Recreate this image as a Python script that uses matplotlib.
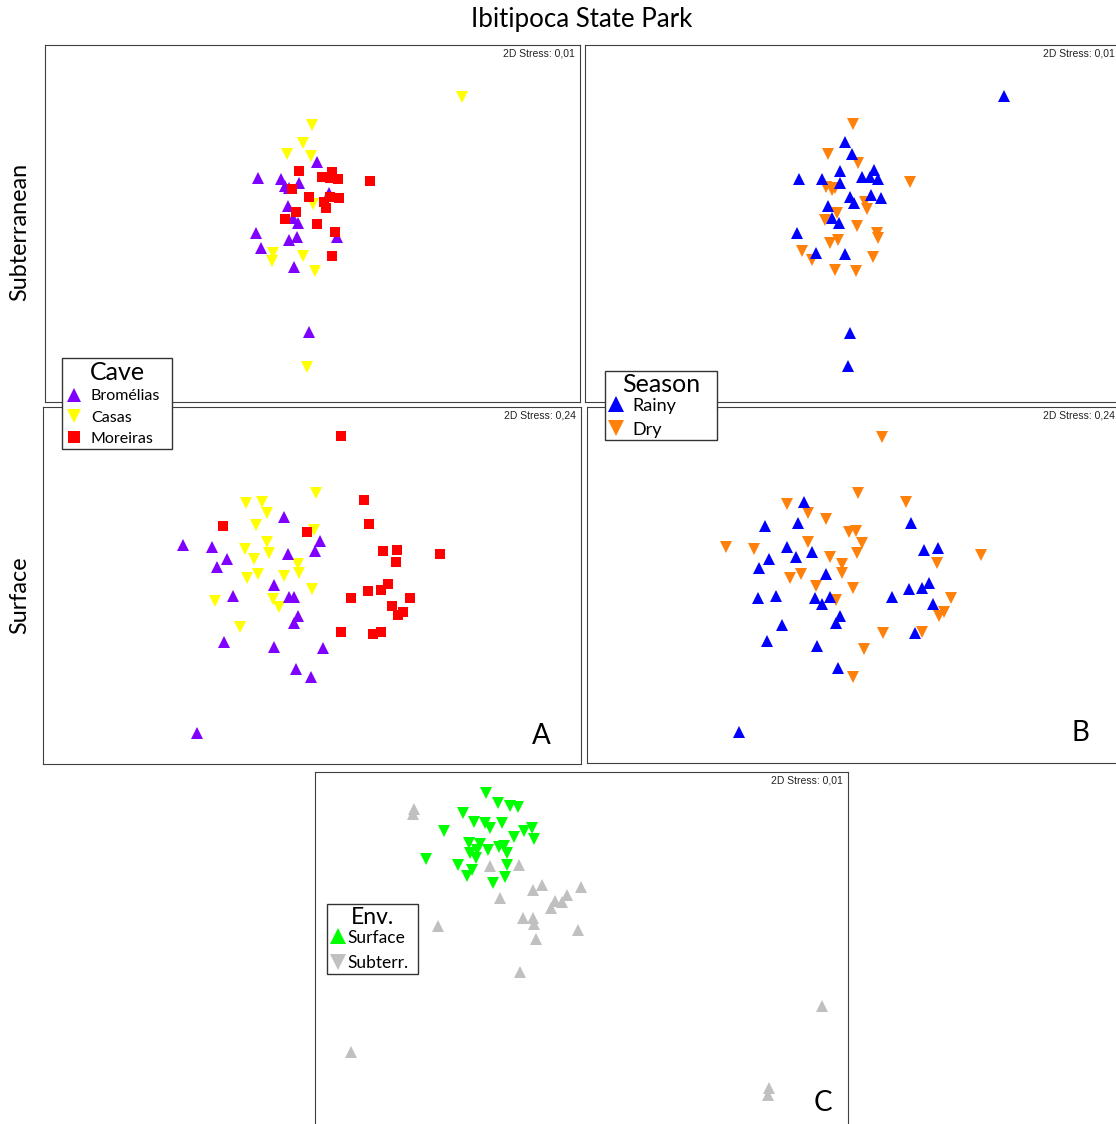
import matplotlib
matplotlib.use("Agg")
import matplotlib.pyplot as plt
from matplotlib.lines import Line2D

W, H = 1116, 1124
LABEL_FONT = ["Lato", "DejaVu Sans"]
STRESS_FONT = ["Liberation Sans", "DejaVu Sans"]

# ---------------- data (NMDS ordination positions) ----------
# Subterranean, by cave
sub_brom_x = [317, 258, 281, 299, 285, 289, 329, 288, 293, 298, 256, 337, 289, 297, 261, 294, 309]
sub_brom_y = [162, 178, 179, 183, 186, 188, 193, 206, 218, 223, 233, 237, 240, 237, 248, 267, 332]
sub_casas_x = [312, 303, 287, 311, 313, 273, 272, 303, 315, 462, 307]
sub_casas_y = [125, 143, 154, 156, 204, 253, 261, 256, 271, 97, 367]
sub_more_x = [299, 322, 332, 330, 338, 370, 292, 309, 330, 339, 324, 326, 296, 285, 317, 335, 332]
sub_more_y = [171, 177, 172, 178, 179, 181, 189, 197, 197, 198, 202, 208, 212, 219, 224, 232, 256]

# Subterranean, by season
sub_rainy_x = [845, 852, 840, 799, 822, 840, 862, 874, 870, 878, 850, 854, 871, 881, 828, 832, 839, 797, 816, 845, 1004, 850, 848]
sub_rainy_y = [142, 154, 171, 179, 179, 183, 177, 170, 177, 179, 197, 203, 195, 198, 206, 218, 223, 233, 253, 254, 96, 333, 366]
sub_dry_x = [853, 828, 858, 910, 826, 832, 835, 865, 867, 837, 825, 857, 877, 878, 838, 830, 802, 812, 873, 835, 856]
sub_dry_y = [124, 154, 163, 182, 187, 190, 188, 202, 209, 213, 220, 226, 233, 238, 240, 243, 251, 260, 257, 270, 271]

# Surface, by cave
sur_brom_x = [284, 183, 212, 227, 217, 288, 315, 320, 274, 233, 289, 294, 298, 294, 224, 274, 296, 311, 323, 197]
sur_brom_y = [517, 545, 547, 559, 567, 554, 551, 541, 585, 596, 597, 597, 616, 623, 642, 647, 669, 677, 648, 733]
sur_casas_x = [316, 246, 262, 267, 256, 314, 267, 245, 269, 254, 298, 299, 247, 258, 284, 312, 215, 273, 279, 240]
sur_casas_y = [493, 503, 502, 513, 525, 530, 542, 549, 553, 559, 564, 573, 578, 574, 576, 589, 601, 599, 607, 627]
sur_more_x = [341, 223, 307, 364, 369, 383, 397, 440, 396, 388, 368, 381, 351, 410, 392, 403, 398, 341, 373, 381]
sur_more_y = [436, 526, 532, 500, 524, 551, 550, 554, 562, 584, 591, 590, 598, 598, 606, 612, 615, 632, 634, 632]

# Surface, by season
sur_rainy_x = [804, 798, 765, 787, 812, 796, 769, 759, 826, 776, 758, 815, 822, 830, 840, 836, 782, 767, 817, 838,
               911, 924, 938, 929, 922, 909, 892, 933, 915, 739]
sur_rainy_y = [502, 523, 526, 547, 552, 557, 559, 568, 574, 596, 598, 598, 604, 597, 616, 623, 625, 641, 646, 668,
               523, 550, 548, 583, 588, 589, 597, 604, 633, 732]
sur_dry_x = [787, 808, 826, 726, 754, 808, 830, 790, 801, 816, 836, 858, 906, 849, 856, 862, 857, 842, 842,
             937, 981, 853, 951, 944, 939, 883, 922, 864, 853, 882]
sur_dry_y = [504, 513, 519, 547, 549, 542, 557, 578, 574, 586, 600, 493, 502, 532, 531, 543, 553, 564, 573,
             563, 555, 588, 598, 612, 616, 633, 632, 649, 677, 437]

# Environment comparison
env_surf_x = [486, 498, 510, 518, 463, 474, 485, 490, 502, 444, 524, 532, 534, 514, 469, 480, 499, 504, 488, 470,
              477, 476, 507, 426, 458, 507, 472, 467, 505, 493]
env_surf_y = [793, 803, 806, 807, 813, 822, 823, 828, 823, 831, 831, 828, 839, 837, 843, 844, 847, 846, 850, 853,
              850, 858, 853, 859, 865, 865, 870, 876, 877, 883]
env_sub_x = [414, 413, 490, 519, 500, 542, 533, 581, 567, 562, 555, 551, 523, 533, 534, 578, 536, 438, 520,
             351, 822, 769, 768]
env_sub_y = [809, 814, 866, 865, 898, 885, 890, 887, 895, 902, 901, 908, 918, 918, 924, 930, 939, 926, 972,
             1052, 1006, 1088, 1095]

# ---------------- styles ----------------
PURPLE, YELLOW, RED = "#8000ff", "#ffff00", "#ff0000"
BLUE, ORANGE = "#0000ff", "#ff800a"
GREEN, GREY = "#00ff00", "#c0c0c0"

fig = plt.figure(figsize=(W / 100, H / 100), dpi=100)
fig.patch.set_facecolor("white")


def panel(l, t, r, b, stress):
    ax = fig.add_axes([l / W, 1 - b / H, (r - l) / W, (b - t) / H])
    ax.set_xlim(l, r)
    ax.set_ylim(b, t)
    ax.set_xticks([])
    ax.set_yticks([])
    for s in ax.spines.values():
        s.set_color("#404040")
        s.set_linewidth(0.8)
    ax.text(1 - 5 / (r - l), 1 - 3.5 / (b - t), f"2D Stress: {stress}",
            transform=ax.transAxes, ha="right", va="top", fontsize=7.5,
            family=STRESS_FONT, color="#222222")
    return ax


def pts(ax, x, y, marker, color, ms):
    ax.plot(x, y, linestyle="none", marker=marker, color=color,
            markeredgewidth=0, markersize=ms, clip_on=False)


MS_T, MS_S = 8.7, 7.0

ax1 = panel(45, 45, 580, 402, "0,01")
pts(ax1, sub_casas_x, sub_casas_y, "v", YELLOW, MS_T)
pts(ax1, sub_brom_x, sub_brom_y, "^", PURPLE, MS_T)
pts(ax1, sub_more_x, sub_more_y, "s", RED, MS_S)

ax2 = panel(585, 45, 1120, 402, "0,01")
pts(ax2, sub_dry_x, sub_dry_y, "v", ORANGE, MS_T)
pts(ax2, sub_rainy_x, sub_rainy_y, "^", BLUE, MS_T)

ax3 = panel(43, 407, 581, 764, "0,24")
pts(ax3, sur_casas_x, sur_casas_y, "v", YELLOW, MS_T)
pts(ax3, sur_brom_x, sur_brom_y, "^", PURPLE, MS_T)
pts(ax3, sur_more_x, sur_more_y, "s", RED, MS_S)
ax3.text((541 - 43) / (581 - 43), 1 - (736 - 407) / (764 - 407), "A",
         transform=ax3.transAxes, fontsize=20, family=LABEL_FONT,
         ha="center", va="center")

ax4 = panel(587, 407, 1120, 763, "0,24")
pts(ax4, sur_dry_x, sur_dry_y, "v", ORANGE, MS_T)
pts(ax4, sur_rainy_x, sur_rainy_y, "^", BLUE, MS_T)
ax4.text((1080 - 587) / (1120 - 587), 1 - (733 - 407) / (763 - 407), "B",
         transform=ax4.transAxes, fontsize=20, family=LABEL_FONT,
         ha="center", va="center")

ax5 = panel(315, 772, 848, 1135, "0,01")
pts(ax5, env_sub_x, env_sub_y, "^", GREY, MS_T)
pts(ax5, env_surf_x, env_surf_y, "v", GREEN, MS_T)
ax5.text((823 - 315) / (848 - 315), 1 - (1103 - 772) / (1135 - 772), "C",
         transform=ax5.transAxes, fontsize=20, family=LABEL_FONT,
         ha="center", va="center")

# ---------------- titles ----------------
fig.text(582 / W, 1 - 20 / H, "Ibitipoca State Park", ha="center", va="center",
         fontsize=18.6, family=LABEL_FONT)
fig.text(20 / W, 1 - 232 / H, "Subterranean", rotation=90, ha="center",
         va="center", fontsize=16.8, family=LABEL_FONT)
fig.text(20 / W, 1 - 595 / H, "Surface", rotation=90, ha="center",
         va="center", fontsize=16.8, family=LABEL_FONT)


# ---------------- legends ----------------
def legend(handles, labels, title, box, fs, tfs, htp=0.5, hl=1.1, ls=0.45,
           bp=0.2, title_sep=3.0):
    x0, y0, x1, y1 = box
    lg = fig.legend(handles, labels, title=title, loc="upper left",
                    bbox_to_anchor=(x0 / W, 1 - y1 / H, (x1 - x0) / W, (y1 - y0) / H),
                    mode="expand", frameon=True,
                    fancybox=False, edgecolor="#333333", framealpha=1,
                    prop={"family": LABEL_FONT, "size": fs},
                    title_fontproperties={"family": LABEL_FONT, "size": tfs},
                    handletextpad=htp, handlelength=hl, labelspacing=ls,
                    borderpad=bp, borderaxespad=0)
    lg._legend_box.sep = title_sep  # gap (points) between title and entries
    lg.get_frame().set_linewidth(1.0)
    lg.set_zorder(10)
    return lg


def h(marker, color, ms):
    return Line2D([], [], linestyle="none", marker=marker, color=color,
                  markeredgewidth=0, markersize=ms)


legend([h("^", PURPLE, 10), h("v", YELLOW, 10), h("s", RED, 8.5)],
       ["Bromélias", "Casas", "Moreiras"], "Cave", (62, 358, 172, 449), 11.5, 18,
       ls=0.435, bp=0.2, title_sep=3.6)
legend([h("^", BLUE, 12), h("v", ORANGE, 12)],
       ["Rainy", "Dry"], "Season", (605, 371, 717, 440), 13, 18,
       htp=0.4, hl=1.0, ls=0.45, bp=0.13, title_sep=0.9)
legend([h("^", GREEN, 11), h("v", GREY, 11)],
       ["Surface", "Subterr."], "Env.", (327, 904, 418, 973), 12.5, 16.5,
       htp=0.1, hl=0.9, ls=0.56, bp=0.156, title_sep=1.3)

fig.savefig("out.png", dpi=100, facecolor="white")
